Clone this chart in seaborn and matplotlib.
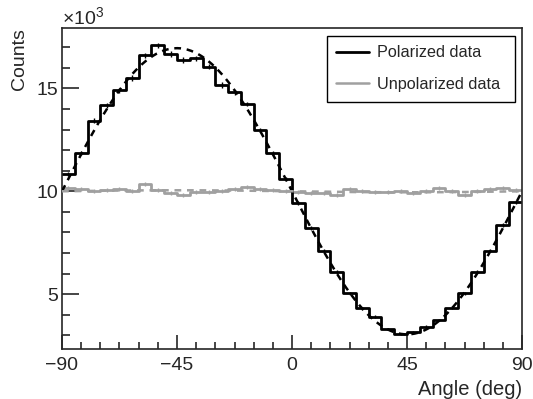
import numpy as np
import pandas as pd
import matplotlib
matplotlib.use("Agg")
import matplotlib.pyplot as plt
import seaborn as sns
from matplotlib.lines import Line2D

# ---- data (counts in units of 10^3) ----
angle_min, angle_max, n_bins = -90, 90, 36  # 5 deg bins
polarized_k = [10.83, 11.87, 13.43, 14.17, 14.90, 15.50, 16.60, 17.09, 16.67, 16.37,
               16.45, 16.05, 15.16, 14.80, 14.24, 12.98, 11.87, 10.60, 9.42, 8.20,
               7.10, 6.08, 5.05, 4.32, 3.91, 3.32, 3.07, 3.18, 3.43, 3.75,
               4.35, 5.05, 6.10, 7.12, 8.38, 9.46]
unpolarized_k = [10.17, 10.11, 10.01, 10.08, 10.11, 10.01, 10.34, 10.05, 9.90, 9.82,
                 9.98, 9.98, 10.03, 10.11, 10.21, 10.11, 10.05, 10.01, 9.95, 9.90,
                 9.90, 9.82, 10.10, 10.00, 9.95, 9.95, 10.00, 9.90, 10.00, 10.15,
                 10.00, 9.82, 10.00, 10.10, 10.15, 10.05]
# fit parameters: mean, amplitude, phase (deg) of  mean + amp*cos(2*(x - phase))
pol_fit = dict(mean=10.0, amp=6.95, phase=-45.0)
unpol_fit = dict(mean=10.0, amp=0.05, phase=-45.0)

x_ticks = [-90, -45, 0, 45, 90]
y_ticks = [5, 10, 15]

W, H = 533, 399
sns.set_style("ticks")
plt.rcParams["font.family"] = ["Liberation Sans", "DejaVu Sans"]
plt.rcParams["mathtext.fontset"] = "custom"
plt.rcParams["mathtext.rm"] = "Liberation Sans"
plt.rcParams["mathtext.it"] = "Liberation Sans"

fig = plt.figure(figsize=(W / 100, H / 100), dpi=100)
ax = fig.add_axes([62 / W, 1 - 349 / H, (522 - 62) / W, (349 - 28) / H])

width = (angle_max - angle_min) / n_bins
centers = angle_min + width * (np.arange(n_bins) + 0.5)
df = pd.DataFrame({"angle": np.concatenate([centers, centers]),
                   "counts": np.concatenate([polarized_k, unpolarized_k]),
                   "set": ["Polarized data"] * n_bins + ["Unpolarized data"] * n_bins})

pal = {"Polarized data": "black", "Unpolarized data": "#a0a0a0"}

# fits
xf = np.linspace(angle_min, angle_max, 400)
for name, p in [("Polarized data", pol_fit), ("Unpolarized data", unpol_fit)]:
    yf = p["mean"] + p["amp"] * np.cos(np.deg2rad(2 * (xf - p["phase"])))
    sns.lineplot(x=xf, y=yf, ax=ax, color=pal[name], lw=1.8, linestyle=(0, (2.7, 2.3)),
                 legend=False, zorder=3)

for name in ["Unpolarized data", "Polarized data"]:
    sub = df[df["set"] == name].reset_index(drop=True)
    sns.histplot(data=sub, x="angle", weights="counts", bins=n_bins,
                 binrange=(angle_min, angle_max), element="step",
                 fill=False, color=pal[name], lw=2, ax=ax, zorder=2)
    err = np.sqrt(sub["counts"].to_numpy() * 1000) / 1000
    ax.errorbar(sub["angle"], sub["counts"], yerr=err, fmt="none", ecolor=pal[name],
                elinewidth=1, capsize=0, zorder=2)

ax.set_xlim(angle_min, angle_max)
ax.set_ylim(2.34, 17.93)
ax.set_xticks(x_ticks)
ax.set_xticklabels(["\u221290", "\u221245", "0", "45", "90"])
ax.set_xticks(np.arange(-90, 90.1, 7.5), minor=True)
ax.set_yticks(y_ticks)
ax.set_yticks(np.arange(3, 18, 1), minor=True)
ax.tick_params(axis="both", which="both", direction="in", labelsize=14, width=1.2,
               top=False, right=False)
ax.tick_params(axis="x", which="major", length=10, pad=6)
ax.tick_params(axis="x", which="minor", length=5)
ax.tick_params(axis="y", which="major", length=12, pad=3)
ax.tick_params(axis="y", which="minor", length=6)
for s in ax.spines.values():
    s.set_linewidth(1.2)
    s.set_visible(True)

ax.set_xlabel("Angle (deg)", fontsize=14.5, loc="right", labelpad=4)
ax.set_ylabel("Counts", fontsize=14, loc="top", labelpad=6)
fig.text(62 / W, 1 - 24 / H, r"$\times10^{3}$", fontsize=14, ha="left", va="baseline")

handles = [Line2D([], [], color="black", lw=2), Line2D([], [], color="#a0a0a0", lw=1.8)]
leg = ax.legend(handles, ["Polarized data", "Unpolarized data"], loc="upper left",
                bbox_to_anchor=((327 - 62) / 460, (349 - 36) / 321, (515 - 327) / 460, 0.0),
                mode="expand", fontsize=11.7, frameon=True, fancybox=False,
                edgecolor="black", framealpha=1, borderpad=0.58, labelspacing=1.03,
                handlelength=2.0, handletextpad=0.5, borderaxespad=0.0)
leg.get_frame().set_linewidth(1.0)

fig.savefig("out.png", dpi=100)
